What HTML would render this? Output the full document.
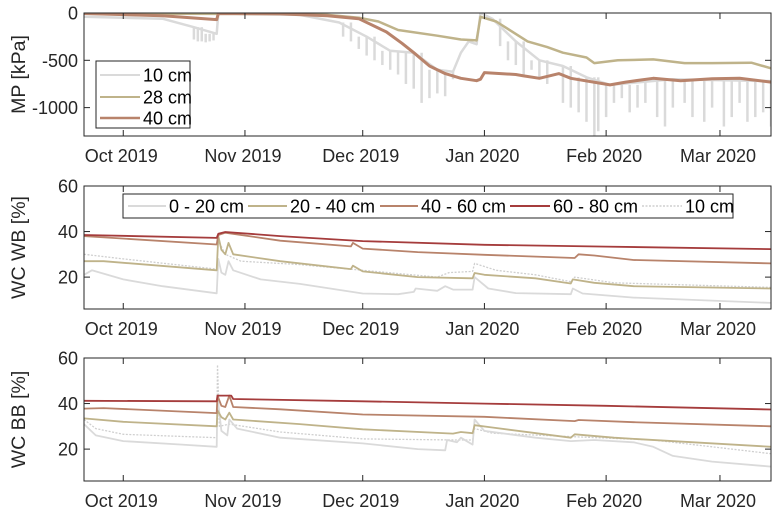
<!DOCTYPE html>
<html><head><meta charset="utf-8">
<style>
body{margin:0;background:#fff;}
svg{display:block;font-family:"Liberation Sans",sans-serif;}
</style></head>
<body>
<svg id="chart" width="780" height="516" viewBox="0 0 780 516"></svg>
<script>
// ---- data (x = days since 2019-09-21) ----
const xTickDays=[10,41,71,102,133,162];
const xTickLabels=["Oct 2019","Nov 2019","Dec 2019","Jan 2020","Feb 2020","Mar 2020"];
// Panel 1: MP [kPa]
const mp40=[[0,-5],[20,-30],[33.8,-70],[34.2,-5],[50,-10],[62,-30],[70,-60],[77,-200],[81,-320],[84,-420],[88,-560],[92,-640],[96,-690],[100,-715],[101,-700],[102,-630],[110,-650],[112,-665],[116,-690],[121,-640],[124,-690],[134,-760],[138,-730],[145,-690],[152,-715],[160,-695],[167,-690],[175,-730]];
const mp28=[[0,-5],[34,-10],[50,-10],[62,-20],[70,-50],[75,-90],[80,-180],[90,-240],[96,-280],[100,-290],[101,-40],[105,-90],[113,-300],[118,-360],[122,-420],[128,-470],[130,-530],[136,-500],[145,-490],[153,-530],[160,-530],[170,-525],[175,-585]];
const mp10=[[0,-40],[20,-60],[28,-150],[33.8,-220],[34.2,-5],[55,-20],[65,-100],[72,-250],[78,-400],[84,-420],[90,-600],[94,-620],[96,-420],[98,-300],[100,-330],[101,0],[104,-60],[110,-300],[116,-500],[122,-560],[128,-680],[134,-760],[150,-700],[175,-720]];
const mp10SpikeDays=[28,29,30,31,32,33,66,68,70,72,74,76,78,80,82,84,86,88,90,92,94,106,108,110,112,114,116,118,122,124,126,128,130,131,133,135,137,139,141,143,146,148,150,153,155,158,160,163,165,167,169,171,173,175];
const mp10SpikeVals=[-280,-300,-300,-310,-300,-290,-250,-300,-380,-450,-500,-550,-600,-650,-750,-800,-950,-900,-850,-880,-700,-350,-500,-550,-650,-600,-700,-750,-950,-1000,-1050,-1150,-1300,-1250,-1100,-950,-900,-1050,-1000,-950,-1100,-1200,-1000,-950,-1100,-1150,-1000,-1200,-1100,-950,-1150,-1100,-1050,-1200];
// Panel 2: WC WB [%]
const wb6080=[[0,38.5],[33.8,37.2],[34.2,39],[36,39.8],[50,38],[71,35.8],[102,34.2],[133,33.4],[175,32.3]];
const wb4060=[[0,38],[33.8,34.3],[34.2,38.5],[36,39.5],[50,36],[68,33.5],[68.5,35],[71,32.5],[85,31],[102,29.8],[125,28.4],[126,30],[130,29.5],[140,27.5],[175,26]];
const wb2040=[[0,27],[5,27],[33.8,23],[34.2,38],[35,32],[36,30],[36.8,35],[38,30],[50,27],[68,23.5],[68.5,25],[71,22.5],[85,20],[99,19.5],[99.5,21.8],[102,21],[115,19.5],[124,17.2],[124.5,19],[130,17.5],[140,16],[175,15]];
const wb020=[[0,21],[2,23],[10,19],[20,16],[33.8,12.9],[34.2,28],[35,22],[36,21],[36.8,27],[38,23],[45,19],[55,17],[71,12.8],[80,12.5],[84,13.5],[84.5,15],[90,14],[92,16],[94,14.5],[99,14.5],[99.5,20],[103,15],[110,13],[124,12.5],[124.5,15],[127,12.8],[140,11],[175,8.7]];
const wb10=[[0,30],[10,28],[33.8,23.5],[34.2,36],[36,30],[40,27],[55,25.5],[71,23],[90,20],[93,22],[99,22.5],[99.5,26],[105,23],[115,21],[124,18],[125,20],[135,17.5],[175,15.5]];
// Panel 3: WC BB [%]
const bb6080=[[0,41.2],[33.8,41],[34,43.5],[37.5,43.5],[38,42],[71,41],[102,40],[133,39],[175,37.4]];
const bb4060=[[0,37.8],[5,38],[33.8,35.8],[34,43.5],[35,39],[36,38.5],[37,43.5],[38,38.5],[50,37.5],[71,35.2],[102,34.2],[125,32.3],[126,32.8],[140,31.8],[175,30]];
const bb2040=[[0,33.5],[10,32],[33.8,30],[34,37],[35,34],[36,33],[37,36],[38,33],[55,31],[71,28.7],[94,26.8],[96,27.5],[99,27],[99.5,30.5],[104,29.5],[124,25],[125,26.5],[135,25],[175,21]];
const bb020=[[0,31],[3,26],[10,23.5],[25,22],[33.8,21],[34,43],[35,28],[36.5,26],[37,33],[39,29],[50,25],[71,22.5],[85,20],[92,19.5],[92.5,24],[95,23],[96,25],[98,23],[99,22],[99.5,33],[102,28],[115,25],[124,23.5],[130,24],[140,23],[145,21],[150,17],[160,14.5],[175,12.3]];
const bb10=[[0,33],[3,29],[10,26.5],[33.8,25],[34,57],[34.5,30],[37,31],[50,27.5],[71,24.5],[95,24],[99,24],[99.5,29],[104,27],[124,25.5],[145,24],[160,21],[175,18]];
const mpTicks=[0,-500,-1000];
const wcTicks=[20,40,60];

const svg=document.getElementById('chart');
const NS='http://www.w3.org/2000/svg';
const X0=84,X1=771,D0=0,D1=175;
const xs=d=>X0+(d-D0)/(D1-D0)*(X1-X0);
function mk(tag,attrs,parent){const e=document.createElementNS(NS,tag);for(const k in attrs)e.setAttribute(k,attrs[k]);(parent||svg).appendChild(e);return e;}
const AX='#262626';
const FS=18;
function panel(name,top,h,ymin,ymax,yticks,ylabel){
  const g=mk('g',{});
  
  
  const ys=v=>top+h-(v-ymin)/(ymax-ymin)*h;
  const clipId='clip-'+name;
  const cp=mk('clipPath',{id:clipId},g);mk('rect',{x:X0,y:top,width:X1-X0,height:h},cp);
  const plot=mk('g',{'clip-path':'url(#'+clipId+')'},g);
  
  
  xTickDays.forEach((d,i)=>{
    const x=xs(d);
    mk('line',{x1:x,x2:x,y1:top+h,y2:top+h-6,stroke:AX,'stroke-width':1},g);
    mk('line',{x1:x,x2:x,y1:top,y2:top+6,stroke:AX,'stroke-width':1},g);
    const t=mk('text',{x:x-2,y:top+h+26,'text-anchor':'middle','font-size':FS,fill:AX},g);
    t.textContent=xTickLabels[i];
    
    
  });
  yticks.forEach(v=>{
    const y=ys(v);
    mk('line',{x1:X0,x2:X0+6,y1:y,y2:y,stroke:AX,'stroke-width':1},g);
    mk('line',{x1:X1,x2:X1-6,y1:y,y2:y,stroke:AX,'stroke-width':1},g);
    const t=mk('text',{x:X0-6,y:y+6.5,'text-anchor':'end','font-size':FS,fill:AX},g);
    t.textContent=v<0?'-'+Math.abs(v):String(v);
    
    
  });
  const yl=mk('text',{x:0,y:0,'text-anchor':'middle','font-size':19.5,fill:AX,transform:`translate(25,${top+h/2}) rotate(-90)`},g);
  yl.textContent=ylabel;
  
  
  return {g,plot,ys,top,h};
}
function line(p,data,color,w,name,dash){
  const pts=data.map(([d,v])=>xs(d).toFixed(1)+','+p.ys(v).toFixed(1)).join(' ');
  const el=mk('polyline',{points:pts,fill:'none',stroke:color,'stroke-width':w,'stroke-linejoin':'round'},p.plot);
  if(dash)el.setAttribute('stroke-dasharray',dash);
  
  
}
function box(p){mk('rect',{x:X0,y:p.top,width:X1-X0,height:p.h,fill:'none',stroke:AX,'stroke-width':1},p.g);}
function legendEntry(parent,x1,x2,y,color,w,label,dash,name){
  const g=mk('g',{},parent);
  
  
  const l=mk('line',{x1:x1,x2:x2,y1:y,y2:y,stroke:color,'stroke-width':w},g);
  if(dash)l.setAttribute('stroke-dasharray',dash);
  const t=mk('text',{x:x2+3,y:y+6.5,'font-size':FS,fill:'#000'},g);
  t.textContent=label;
}
const C10='#dadada',C28='#bfb38a',C40='#b8836b',C60='#a53c3c',CDOT='#cfcfcf';

// Panel 1
const p1=panel('mp-panel',13,123,-1300,0,mpTicks,'MP [kPa]');
mp10SpikeDays.forEach((d,i)=>{
  const base=mp10.reduce((a,b)=>Math.abs(b[0]-d)<Math.abs(a[0]-d)?b:a);
  const s=mk('line',{x1:xs(d),x2:xs(d),y1:p1.ys(base[1]),y2:p1.ys(mp10SpikeVals[i]),stroke:C10,'stroke-width':2.5},p1.plot);
  
  
});
line(p1,mp10,C10,2.5,'mp-10cm-line');
line(p1,mp28,C28,2.5,'mp-28cm-line');
line(p1,mp40,C40,3,'mp-40cm-line');
box(p1);
const lg1=mk('g',{});
mk('rect',{x:96,y:61,width:94,height:67,fill:'#fff',stroke:AX,'stroke-width':1},lg1);
legendEntry(lg1,100,140,75,C10,2,'10 cm',null,'legend-entry-10cm');
legendEntry(lg1,100,140,97,C28,2,'28 cm',null,'legend-entry-28cm');
legendEntry(lg1,100,140,118,C40,2.4,'40 cm',null,'legend-entry-40cm');

// Panel 2
const p2=panel('wc-wb-panel',186,123,6,60,wcTicks,'WC WB [%]');
line(p2,wb10,CDOT,1.3,'wb-10cm-line','2,1.5');
line(p2,wb020,C10,1.8,'wb-0-20-line');
line(p2,wb2040,C28,1.8,'wb-20-40-line');
line(p2,wb4060,C40,1.8,'wb-40-60-line');
line(p2,wb6080,C60,1.8,'wb-60-80-line');
box(p2);
const lg2=mk('g',{});
mk('rect',{x:123,y:194,width:610,height:24,fill:'#fff',stroke:AX,'stroke-width':1},lg2);
legendEntry(lg2,128,166,206,C10,2,'0 - 20 cm',null,'legend-entry-0-20');
legendEntry(lg2,248,287,206,C28,2,'20 - 40 cm',null,'legend-entry-20-40');
legendEntry(lg2,380,418,206,C40,2,'40 - 60 cm',null,'legend-entry-40-60');
legendEntry(lg2,510,550,206,C60,2,'60 - 80 cm',null,'legend-entry-60-80');
legendEntry(lg2,642,682,206,CDOT,1.5,'10 cm','2,1.5','legend-entry-10cm-dotted');

// Panel 3
const p3=panel('wc-bb-panel',358,123,6,60,wcTicks,'WC BB [%]');
line(p3,bb10,CDOT,1.3,'bb-10cm-line','2,1.5');
line(p3,bb020,C10,1.8,'bb-0-20-line');
line(p3,bb2040,C28,1.8,'bb-20-40-line');
line(p3,bb4060,C40,1.8,'bb-40-60-line');
line(p3,bb6080,C60,1.8,'bb-60-80-line');
box(p3);
</script>
</body></html>
